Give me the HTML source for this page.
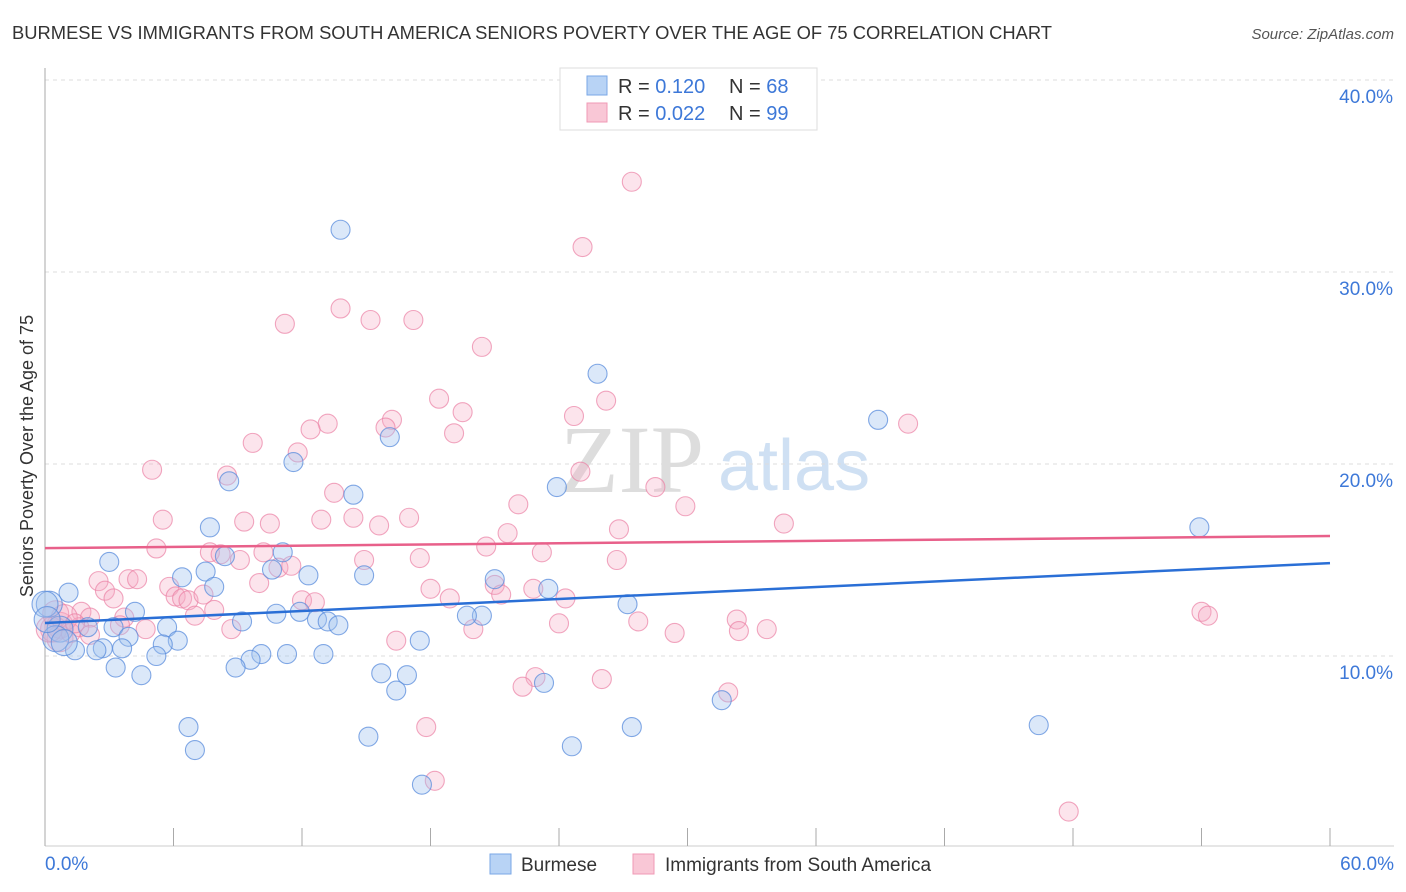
<!DOCTYPE html>
<html><head><meta charset="utf-8"><style>
body{margin:0;background:#fff;font-family:"Liberation Sans",sans-serif;}
svg{display:block}
</style></head><body>
<svg width="1406" height="892" id="chart">
<text x="12" y="39" font-size="18" fill="#333" textLength="1040" lengthAdjust="spacingAndGlyphs">BURMESE VS IMMIGRANTS FROM SOUTH AMERICA SENIORS POVERTY OVER THE AGE OF 75 CORRELATION CHART</text>
<text x="1394" y="39" font-size="15" fill="#555" font-style="italic" text-anchor="end">Source: ZipAtlas.com</text>
<text x="560" y="492" font-size="96" fill="#ddd" font-family="Liberation Serif">ZIP</text>
<text x="718" y="490" font-size="72" fill="#cfe0f3">atlas</text>
<g id="grid"></g><g id="pts"></g><g id="lines"></g>
<text transform="translate(33,456) rotate(-90)" font-size="18" fill="#333" text-anchor="middle">Seniors Poverty Over the Age of 75</text>
<g>
<rect x="560" y="68" width="257" height="62" fill="#fff" stroke="#ddd"/>
<rect x="587" y="76" width="20" height="19" fill="#b8d3f5" stroke="#7aa7e6"/>
<rect x="587" y="103" width="20" height="19" fill="#f9c7d6" stroke="#f09ab5"/>
<text x="618" y="93" font-size="20" fill="#333">R = <tspan fill="#3d78d8">0.120</tspan><tspan x="729">N = </tspan><tspan fill="#3d78d8">68</tspan></text>
<text x="618" y="120" font-size="20" fill="#333">R = <tspan fill="#3d78d8">0.022</tspan><tspan x="729">N = </tspan><tspan fill="#3d78d8">99</tspan></text>
</g>
<g>
<rect x="490" y="854" width="21" height="20" fill="#b8d3f5" stroke="#7aa7e6"/>
<text x="521" y="871" font-size="19" fill="#333">Burmese</text>
<rect x="633" y="854" width="21" height="20" fill="#f9c7d6" stroke="#f09ab5"/>
<text x="665" y="871" font-size="19" fill="#333">Immigrants from South America</text>
</g>
</svg>
<script>
const yTicks=[10,20,30,40];
const yTickLabels=["10.0%","20.0%","30.0%","40.0%"];
const xTickVals=[0,6,12,18,24,30,36,42,48,54,60];
const xEndLabels=["0.0%","60.0%"];
const blueX=[13.8,25.8,38.9,16.1,11.6,8.6,23.9,14.4,7.7,53.9,3.0,8.4,11.1,10.6,7.5,6.4,12.3,14.9,7.9,21.0,23.5,1.1,4.2,10.8,11.9,12.7,13.2,13.7,27.2,20.4,19.7,9.2,5.7,2.0,3.2,3.9,6.2,5.5,2.7,1.4,2.4,3.6,5.2,17.5,10.1,9.6,8.9,11.3,13.0,3.3,4.5,15.7,16.9,16.4,23.3,31.6,6.7,27.4,46.4,15.1,7.0,24.6,17.6,0.2,0.7,0.5,0.0,0.9,0.1];
const blueY=[32.2,24.7,22.3,21.4,20.1,19.1,18.8,18.4,16.7,16.7,14.9,15.2,15.4,14.5,14.4,14.1,14.2,14.2,13.6,14.0,13.5,13.3,12.3,12.2,12.3,11.9,11.8,11.6,12.7,12.1,12.1,11.8,11.5,11.5,11.5,11.0,10.8,10.6,10.4,10.3,10.3,10.4,10.0,10.8,10.1,9.8,9.4,10.1,10.1,9.4,9.0,9.1,9.0,8.2,8.6,7.7,6.3,6.3,6.4,5.8,5.1,5.3,3.3,12.7,11.4,10.9,12.7,10.7,11.9];
const pinkX=[27.4,25.1,13.8,11.2,15.2,17.2,20.4,26.2,18.4,19.5,24.7,16.2,13.2,40.3,15.9,12.4,19.1,9.7,11.8,5.0,8.5,25.0,13.5,28.5,29.9,22.1,5.5,9.3,10.5,12.9,14.4,17.0,15.6,34.5,26.8,21.6,20.6,5.2,7.7,23.2,8.2,9.1,10.2,14.9,17.5,26.7,10.9,11.5,3.9,4.3,2.5,10.0,5.8,21.0,22.8,2.8,3.2,6.1,6.4,6.7,7.4,18.0,21.3,24.3,18.9,12.0,12.6,7.9,1.7,2.1,3.7,7.0,54.0,54.3,1.6,0.7,3.5,27.7,32.3,32.4,33.7,24.0,20.0,29.4,8.7,4.7,2.1,0.4,0.7,16.4,1.2,22.9,22.3,26.0,31.9,17.8,18.2,47.8,0.2,0.5,0.9,1.4];
const pinkY=[34.7,31.3,28.1,27.3,27.5,27.5,26.1,23.3,23.4,22.7,22.5,22.3,22.1,22.1,21.9,21.8,21.6,21.1,20.6,19.7,19.4,19.6,18.5,18.8,17.8,17.9,17.1,17.0,16.9,17.1,17.2,17.2,16.8,16.9,16.6,16.4,15.7,15.6,15.4,15.4,15.3,15.0,15.4,15.0,15.1,15.0,14.6,14.7,14.0,14.0,13.9,13.8,13.6,13.7,13.5,13.4,13.0,13.1,13.0,12.9,13.2,13.5,13.2,13.0,13.0,12.9,12.8,12.4,12.3,12.0,12.0,12.1,12.3,12.1,11.5,11.6,11.6,11.8,11.9,11.3,11.4,11.7,11.4,11.2,11.4,11.4,11.1,11.4,10.9,10.8,11.2,8.9,8.4,8.8,8.1,6.3,3.5,1.9,11.4,12.2,12.0,11.7];
const blueLine=[11.72,14.84];
const pinkLine=[15.62,16.25];
const NS='http://www.w3.org/2000/svg';
const X=v=>45+v*(1285/60);
const Y=v=>848-v*19.2;
function mk(tag,a,parent){const e=document.createElementNS(NS,tag);for(const k in a)e.setAttribute(k,a[k]);parent.appendChild(e);return e;}
const grid=document.getElementById('grid');
yTicks.forEach((t,i)=>{
 const l=mk('line',{x1:45,x2:1394,y1:Y(t),y2:Y(t),stroke:'#ddd','stroke-dasharray':'4,4'},grid);
 
 
 const tx=mk('text',{x:1393,y:Y(t)+23,'font-size':19,fill:'#3d78d8','text-anchor':'end'},grid);
 tx.textContent=yTickLabels[i];
 
 
});
const ax=mk('line',{x1:45,x2:45,y1:68,y2:846,stroke:'#aaa'},grid);


const bx=mk('line',{x1:45,x2:1394,y1:846,y2:846,stroke:'#ccc'},grid);


xTickVals.forEach(t=>{
 const l=mk('line',{x1:X(t),x2:X(t),y1:828,y2:846,stroke:'#aaa'},grid);
 
 
});
[[0,'start',45],[60,'end',1394]].forEach((d,i)=>{
 const tx=mk('text',{x:d[2],y:870,'font-size':19,fill:'#3d78d8','text-anchor':d[1]},grid);
 tx.textContent=xEndLabels[i];
 
 
});
const pts=document.getElementById('pts');
function dots(xs,ys,fill,stroke,name){
 xs.forEach((x,i)=>{
  const r=(x<1)?13:9.5;
  const c=mk('circle',{cx:X(x),cy:Y(ys[i]),r:r,fill:fill,stroke:stroke,'stroke-width':1.1},pts);
  
  
 });
}
dots(pinkX,pinkY,'rgba(245,170,195,0.32)','rgba(235,130,165,0.7)','immigrants-point');
dots(blueX,blueY,'rgba(160,195,240,0.38)','rgba(90,140,220,0.75)','burmese-point');
const lines=document.getElementById('lines');
const pl=mk('line',{x1:X(0),x2:X(60),y1:Y(pinkLine[0]),y2:Y(pinkLine[1]),stroke:'#e8608a','stroke-width':2.5},lines);


const bl=mk('line',{x1:X(0),x2:X(60),y1:Y(blueLine[0]),y2:Y(blueLine[1]),stroke:'#2a6fd6','stroke-width':2.5},lines);


</script>
</body></html>
